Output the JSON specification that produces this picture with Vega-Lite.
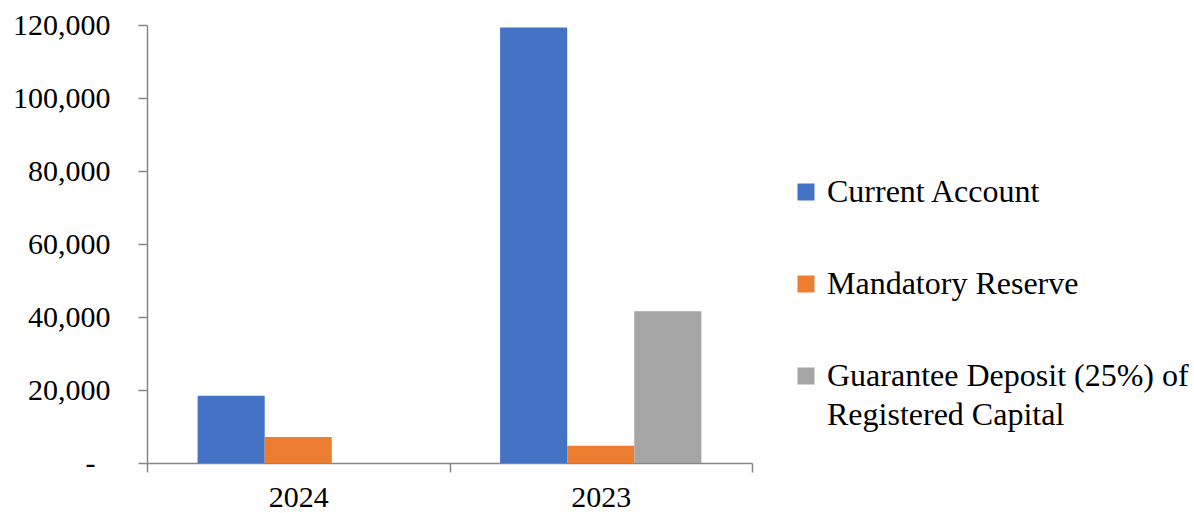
{
  "$schema": "https://vega.github.io/schema/vega-lite/v6.json",
  "width": 605,
  "height": 438,
  "autosize": {"type": "none"},
  "padding": {"left": 147, "top": 25, "right": 442, "bottom": 50},
  "config": {
    "view": {"stroke": null},
    "font": "Liberation Serif",
    "axis": {"grid": false, "domainColor": "#868686", "tickColor": "#868686", "labelColor": "#000000", "labelFont": "Liberation Serif", "labelFontSize": 30, "domainWidth": 1.5, "tickWidth": 1.5, "tickSize": 9},
    "legend": {"labelFont": "Liberation Serif", "labelFontSize": 32, "labelColor": "#000000"}
  },
  "data": {
    "values": [
      {"year": "2024", "item": "Current Account", "value": 18400},
      {"year": "2024", "item": "Mandatory Reserve", "value": 7100},
      {"year": "2023", "item": "Current Account", "value": 119300},
      {"year": "2023", "item": "Mandatory Reserve", "value": 4700},
      {"year": "2023", "item": "Guarantee Deposit (25%) of Registered Capital", "value": 41600}
    ]
  },
  "mark": {"type": "bar"},
  "encoding": {
    "x": {
      "field": "year", "type": "nominal", "sort": ["2024", "2023"], "title": null,
      "scale": {"paddingInner": 0, "paddingOuter": 0},
      "axis": {"labelAngle": 0, "tickBand": "extent", "labelPadding": 10}
    },
    "xOffset": {
      "field": "item", "type": "nominal",
      "sort": ["Current Account", "Mandatory Reserve", "Guarantee Deposit (25%) of Registered Capital"],
      "scale": {"paddingInner": 0, "paddingOuter": 0.754}
    },
    "y": {
      "field": "value", "type": "quantitative", "title": null,
      "scale": {"domain": [0, 120000], "nice": false},
      "axis": {
        "values": [0, 20000, 40000, 60000, 80000, 100000, 120000],
        "labelPadding": {"condition": {"test": "datum.value == 0", "value": 43}, "value": 28},
        "labelExpr": "datum.value == 0 ? '-' : format(datum.value, ',')"
      }
    },
    "color": {
      "field": "item", "type": "nominal", "title": null,
      "sort": ["Current Account", "Mandatory Reserve", "Guarantee Deposit (25%) of Registered Capital"],
      "scale": {"range": ["#4472C4", "#ED7D31", "#A5A5A5"]},
      "legend": {
        "orient": "none", "legendX": 643, "legendY": 151,
        "symbolType": "square", "symbolSize": 289, "symbolStrokeWidth": 0,
        "labelOffset": 5, "rowPadding": 60, "labelLimit": 400,
        "labelExpr": "datum.label == 'Guarantee Deposit (25%) of Registered Capital' ? ['Guarantee Deposit (25%) of', 'Registered Capital'] : datum.label",
        "encode": {"labels": {"update": {"lineHeight": {"value": 39}}}}
      }
    }
  }
}
